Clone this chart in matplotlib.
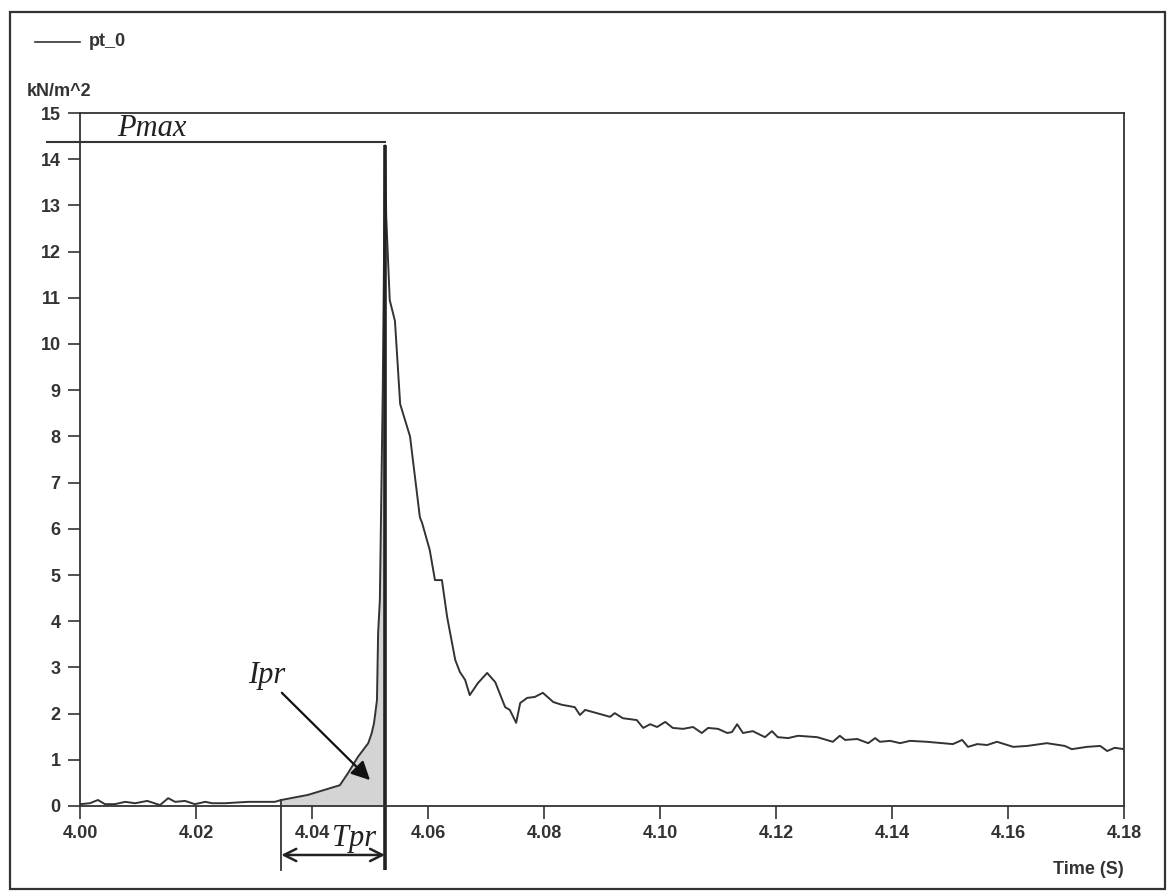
import matplotlib.pyplot as plt
from matplotlib.patches import Rectangle
from matplotlib.lines import Line2D
import numpy as np

# pressure record pt_0 (time in s, pressure in kN/m^2)
time = [4.0000, 4.0017, 4.0031, 4.0043, 4.0060, 4.0078, 4.0095, 4.0116, 4.0138, 4.0152,
        4.0164, 4.0181, 4.0198, 4.0216, 4.0228, 4.0250, 4.0290, 4.0336, 4.0347, 4.0393,
        4.0448, 4.0462, 4.0479, 4.0497, 4.0503, 4.0507, 4.0512, 4.0514, 4.0517, 4.0522,
        4.0526, 4.0528, 4.0534, 4.0543, 4.0552, 4.0569, 4.0586, 4.0590, 4.0603, 4.0612,
        4.0624, 4.0633, 4.0647, 4.0655, 4.0664, 4.0672, 4.0686, 4.0702, 4.0716, 4.0733,
        4.0741, 4.0752, 4.0759, 4.0771, 4.0784, 4.0798, 4.0816, 4.0831, 4.0853, 4.0862,
        4.0871, 4.0891, 4.0914, 4.0922, 4.0936, 4.0960, 4.0971, 4.0983, 4.0995, 4.1009,
        4.1022, 4.1040, 4.1057, 4.1072, 4.1083, 4.1100, 4.1116, 4.1124, 4.1133, 4.1143,
        4.1160, 4.1181, 4.1193, 4.1203, 4.1221, 4.1238, 4.1271, 4.1298, 4.1310, 4.1319,
        4.1340, 4.1359, 4.1371, 4.1379, 4.1397, 4.1414, 4.1431, 4.1460, 4.1505, 4.1521,
        4.1531, 4.1547, 4.1564, 4.1581, 4.1609, 4.1633, 4.1667, 4.1698, 4.1710, 4.1736,
        4.1759, 4.1771, 4.1784, 4.1800]
pressure = [0.04, 0.06, 0.13, 0.04, 0.04, 0.09, 0.06, 0.11, 0.02, 0.17,
            0.09, 0.11, 0.04, 0.09, 0.06, 0.06, 0.09, 0.09, 0.13, 0.24,
            0.45, 0.71, 1.06, 1.36, 1.58, 1.80, 2.29, 3.74, 4.46, 9.0,
            14.3, 12.75, 10.95, 10.5, 8.7, 8.0, 6.25, 6.12, 5.54, 4.89,
            4.89, 4.09, 3.16, 2.90, 2.73, 2.40, 2.66, 2.88, 2.68, 2.14,
            2.08, 1.80, 2.23, 2.34, 2.36, 2.45, 2.25, 2.19, 2.14, 1.97,
            2.08, 2.01, 1.93, 2.01, 1.90, 1.86, 1.69, 1.77, 1.71, 1.82,
            1.69, 1.67, 1.71, 1.58, 1.69, 1.67, 1.58, 1.60, 1.77, 1.58,
            1.62, 1.49, 1.62, 1.49, 1.47, 1.52, 1.49, 1.39, 1.52, 1.43,
            1.45, 1.36, 1.47, 1.39, 1.41, 1.36, 1.41, 1.39, 1.34, 1.43,
            1.28, 1.34, 1.32, 1.39, 1.28, 1.30, 1.36, 1.30, 1.23, 1.28,
            1.30, 1.19, 1.26, 1.23]

x_ticks = [4.00, 4.02, 4.04, 4.06, 4.08, 4.10, 4.12, 4.14, 4.16, 4.18]
y_ticks = list(range(0, 16))

t_rise = 4.0347  # start of the pressure rise

time = np.array(time)
pressure = np.array(pressure)
i_peak = int(np.argmax(pressure))
t_peak = time[i_peak]
p_max = pressure[i_peak]

sans = 'Liberation Sans'
serif = 'Liberation Serif'
fs = 13

fig = plt.figure(figsize=(11.71, 8.91), dpi=100)
ax = fig.add_axes([80/1171, 1 - 806/891, 1044/1171, 693/891])

# outer border
fig.patches.append(Rectangle((10/1171, 2/891), 1155/1171, 877/891, transform=fig.transFigure,
                             fill=False, edgecolor='#333333', linewidth=1.6))

# legend
fig.add_artist(Line2D([35/1171, 80/1171], [1 - 42/891, 1 - 42/891], color='#333333', linewidth=1.2))
fig.text(89/1171, 1 - 42/891, 'pt_0', fontsize=fs, family=sans, fontweight='bold',
         color='#333333', va='center')
fig.text(27/1171, 1 - 92/891, 'kN/m^2', fontsize=fs, family=sans, fontweight='bold',
         color='#333333', va='center')

# shaded impulse area under the rise
m = (time >= t_rise) & (time <= t_peak)
ax.fill_between(time[m], 0, pressure[m], color='#d4d4d4', linewidth=0)

ax.plot(time, pressure, color='#333333', linewidth=1.4)

# peak line and Pmax marker
ax.plot([t_peak, t_peak], [-1.39, p_max], color='#222222', linewidth=2.6, clip_on=False,
        solid_capstyle='butt')
ax.plot([3.9943, t_peak], [p_max + 0.07, p_max + 0.07], color='#333333', linewidth=1.5,
        clip_on=False)
ax.text(4.0064, p_max + 0.04, 'Pmax', fontsize=22, family=serif, style='italic',
        color='#222222', va='bottom', ha='left')

# rise time bracket
ax.plot([t_rise, t_rise], [-1.39, 0.13], color='#333333', linewidth=1.3, clip_on=False)
ax.annotate('', xy=(t_rise, -1.06), xytext=(t_peak, -1.06), annotation_clip=False,
            arrowprops=dict(arrowstyle='<->', color='#222222', linewidth=1.8,
                            mutation_scale=22, shrinkA=0, shrinkB=0))
ax.text(4.0472, -0.87, 'Tpr', fontsize=22, family=serif, style='italic',
        color='#222222', va='baseline', ha='center', clip_on=False)

# impulse label
ax.annotate('', xy=(4.0500, 0.56), xytext=(4.0348, 2.45),
            arrowprops=dict(arrowstyle='-|>', color='#111111', linewidth=1.6,
                            mutation_scale=28, shrinkA=0, shrinkB=0))
ax.text(4.0322, 2.5, 'Ipr', fontsize=22, family=serif, style='italic',
        color='#222222', va='bottom', ha='center')

ax.set_xlim(4.00, 4.18)
ax.set_ylim(0, 15)
ax.set_xticks(x_ticks)
ax.set_xticklabels(['%.2f' % v for v in x_ticks])
ax.set_yticks(y_ticks)
ax.tick_params(axis='both', direction='out', length=9, width=1.2, color='#333333',
               labelsize=fs, labelcolor='#333333', pad=5)
for lab in ax.get_xticklabels() + ax.get_yticklabels():
    lab.set_fontfamily(sans)
    lab.set_fontweight('bold')
for s in ax.spines.values():
    s.set_color('#333333')
    s.set_linewidth(1.3)

fig.text(1124/1171, 1 - 870/891, 'Time (S)', fontsize=fs, family=sans, fontweight='bold',
         color='#333333', va='center', ha='right')

fig.savefig('out.png', dpi=100)
